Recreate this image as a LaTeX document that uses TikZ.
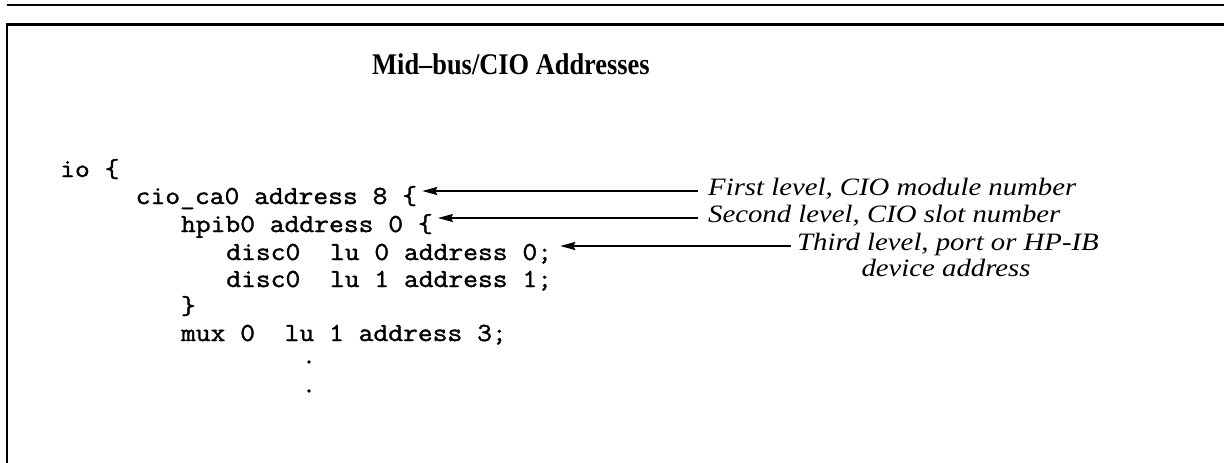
\documentclass[tikz,border=0pt]{standalone}
\usepackage{fontspec}
\setmainfont{Liberation Serif}
\newfontfamily\codefont[FakeStretch=1.106,FakeBold=1.4]{Latin Modern Mono}
\newfontfamily\notefont[FakeStretch=1.15]{Liberation Serif}
\newfontfamily\headfont[FakeStretch=0.88]{Liberation Serif}
\usetikzlibrary{arrows.meta,calc}

\tikzset{
  rule/.style={line width=2.5pt},
  code/.style={anchor=base west, inner sep=0pt,
    font=\codefont\fontsize{26}{30}\selectfont},
  more/.style={circle, fill, inner sep=0pt, minimum size=3.6pt},
  note/.style={anchor=base west, inner sep=0pt,
    font=\notefont\itshape\fontsize{25}{31}\selectfont},
  title/.style={anchor=base, inner sep=0pt,
    font=\headfont\bfseries\fontsize{30}{36}\selectfont},
  pointer/.style={line width=2pt,
    -{Stealth[length=15pt,width=8pt,inset=2pt]}},
}

\begin{document}
\begin{tikzpicture}[x=1pt,y=-1pt]
  \useasboundingbox (0,0) rectangle (1224,463);

  % rules: top line and the open frame
  \draw[rule] (7,5) -- (1224,5);
  \draw[rule] (7,463) -- (7,24.5) -- (1224,24.5);

  \node[title] (head) at (511,74) {Mid\textendash bus/CIO Addresses};

  % configuration listing, one column = 15.1pt
  \node[code] (io)   at (60,177)    {io \{};
  \node[code] (cio)  at (135.5,204) {cio\_ca0 address 8 \{};
  \node[code] (hpib) at (180.8,232) {hpib0 address 0 \{};
  \node[code] (dA)   at (226.1,260) {disc0\ \ lu 0 address 0;};
  \node[code] (dB)   at (226.1,287) {disc0\ \ lu 1 address 1;};
  \node[code] (cls)  at (180.8,314) {\}};
  \node[code] (mux)  at (180.8,341) {mux 0\ \ lu 1 address 3;};
  % continuation marks below the listing
  \node[more] (dot1) at (309,362) {};
  \node[more] (dot2) at (309,391) {};

  % annotations
  \node[note] (n1) at (708,195) {First level, CIO module number};
  \node[note] (n2) at (708,222) {Second level, CIO slot number};
  \node[note] (n3) at (797,250) {Third level, port or HP-IB};
  \node[note, anchor=base] (n4) at (946,276) {device address};

  \draw[pointer] ($(n1.base west)+(-10,-4)$) -- ($(cio.east |- n1.base west)+(5,-4)$);
  \draw[pointer] ($(n2.base west)+(-10,-4)$) -- ($(hpib.east |- n2.base west)+(5,-4)$);
  \draw[pointer] ($(n3.base west)+(-6,-4)$) -- ($(dA.east |- n3.base west)+(8,-4)$);
\end{tikzpicture}
\end{document}
